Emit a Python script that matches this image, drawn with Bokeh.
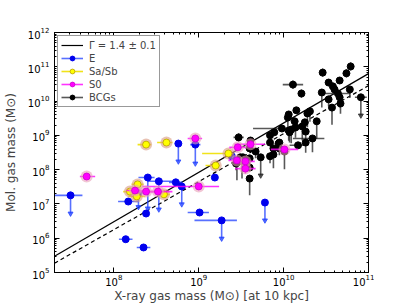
import numpy as np
from bokeh.plotting import figure
from bokeh.models import (Legend, LegendItem, LogAxis, LogTicker, CustomJSTickFormatter)
from bokeh.embed import file_html
from bokeh.resources import INLINE

# ---------------- data (log10 of masses in solar masses) ----------------
# Elliptical galaxies (E)
E_logMx   = [7.49, 8.17, 8.14, 8.35, 8.38, 8.29, 8.40, 8.53, 8.73, 8.80, 8.76, 8.96, 9.19, 9.39, 9.01, 9.27, 9.78]
E_logMmol = [7.25, 7.07, 5.97, 5.73, 6.72, 7.31, 7.77, 7.66, 7.63, 7.51, 8.76, 8.73, 7.77, 8.39, 6.75, 6.52, 7.04]
E_xlo     = [0.19, 0.12, 0.08, 0.08, 0.00, 0.00, 0.11, 0.13, 0.08, 0.00, 0.00, 0.06, 0.00, 0.00, 0.14, 0.32, 0.00]
E_xhi     = [0.14, 0.12, 0.08, 0.08, 0.00, 0.00, 0.08, 0.16, 0.08, 0.00, 0.00, 0.06, 0.00, 0.00, 0.11, 0.18, 0.00]
E_ylo     = [0.53, 0.00, 0.00, 0.00, 0.00, 0.40, 0.90, 0.82, 0.00, 0.52, 0.52, 0.55, 0.08, 0.08, 0.00, 0.53, 0.52]
E_yhi     = [0.00, 0.00, 0.00, 0.00, 0.00, 0.00, 0.00, 0.00, 0.00, 0.00, 0.00, 0.00, 0.08, 0.08, 0.00, 0.00, 0.00]
E_uplim   = [1, 0, 0, 0, 0, 1, 1, 1, 0, 1, 1, 1, 0, 0, 0, 1, 1]

# Spirals (Sa/Sb)
S_logMx   = [8.38, 8.62, 9.35, 9.20, 8.28, 8.19, 8.27, 8.59]
S_logMmol = [8.73, 8.79, 8.47, 8.12, 7.57, 7.36, 7.22, 7.28]
S_xlo     = [0.10, 0.11, 0.31, 0.12, 0.07, 0.08, 0.10, 0.07]
S_xhi     = [0.06, 0.07, 0.05, 0.05, 0.07, 0.08, 0.10, 0.07]

# Lenticulars (S0)
S0_logMx   = [7.68, 8.96, 9.00, 8.52, 8.38, 8.25, 9.61, 9.46, 9.55, 9.55, 9.45, 10.01]
S0_logMmol = [7.80, 8.91, 7.51, 7.36, 7.36, 7.39, 8.74, 8.65, 8.24, 8.03, 8.27, 8.59]
S0_xlo     = [0.08, 0.09, 0.66, 0.18, 0.10, 0.10, 0.19, 0.10, 0.13, 0.12, 0.10, 0.16]
S0_xhi     = [0.10, 0.08, 0.24, 0.17, 0.10, 0.10, 0.17, 0.10, 0.11, 0.12, 0.10, 0.16]
S0_yerr    = [0.06, 0.06, 0.00, 0.00, 0.00, 0.00, 0.08, 0.00, 0.00, 0.15, 0.00, 0.05]

# Brightest cluster galaxies (BCGs)
B_logMx   = [10.11, 10.21, 10.46, 10.53, 10.58, 10.66, 10.74, 10.79, 10.45, 10.60, 10.64, 10.66, 10.78, 10.91,
             10.53, 10.57, 10.67, 10.39, 10.31, 10.28, 10.15, 10.06, 10.05, 10.13, 9.98, 10.14, 10.22, 10.25,
             10.26, 10.06, 10.09, 9.84, 10.34, 10.26, 9.88, 9.47, 9.61, 9.67, 9.73, 9.84, 9.88, 9.95, 10.01,
             9.60, 9.60, 9.52, 9.60, 9.60, 9.44, 9.51, 9.45, 9.49, 9.84, 9.94, 9.89, 9.95, 10.17, 10.07]
B_logMmol = [10.48, 10.22, 10.83, 10.54, 10.43, 10.60, 10.81, 11.01, 10.25, 10.34, 10.22, 10.11, 10.34, 10.11,
             10.05, 9.81, 9.93, 9.41, 9.70, 9.64, 9.73, 9.61, 9.52, 9.41, 9.20, 9.23, 9.26, 9.38,
             9.11, 9.14, 9.17, 9.00, 8.91, 8.79, 8.62, 8.94, 8.85, 8.53, 8.36, 8.39, 8.44, 8.62, 8.53,
             8.62, 8.33, 8.36, 8.06, 7.74, 8.18, 8.24, 8.21, 8.36, 8.79, 8.76, 9.09, 8.79, 8.71, 9.09]
B_xlo     = [0.12, 0.02, 0, 0, 0, 0, 0, 0, 0, 0, 0.18, 0, 0, 0.07,
             0, 0, 0, 0, 0, 0, 0, 0, 0, 0, 0.34, 0, 0, 0,
             0, 0, 0, 0, 0.23, 0, 0, 0.06, 0, 0, 0, 0, 0, 0, 0,
             0, 0, 0, 0, 0, 0, 0, 0, 0, 0, 0, 0, 0, 0.10, 0]
B_xhi     = [0.12, 0.02, 0, 0, 0, 0, 0, 0, 0, 0, 0.15, 0, 0, 0.07,
             0, 0, 0, 0, 0, 0, 0, 0, 0, 0, 0.04, 0, 0, 0,
             0, 0, 0, 0, 0.14, 0, 0, 0.06, 0, 0, 0, 0, 0, 0, 0,
             0, 0, 0, 0, 0, 0, 0, 0, 0, 0, 0, 0, 0, 0.10, 0]
B_ylo     = [0.12, 0.12, 0.12, 0.10, 0.10, 0.10, 0.12, 0.12, 0.44, 0.00, 0.10, 0.30, 0.25, 0.53,
             0.20, 0.50, 0.30, 0.50, 0.30, 0.40, 0.10, 0.10, 0.30, 0.10, 0.00, 0.30, 0.41, 0.20,
             0.40, 0.30, 0.40, 0.15, 0.40, 0.30, 0.20, 0.12, 0.10, 0.20, 0.53, 0.20, 0.40, 0.20, 0.52,
             0.10, 0.20, 0.10, 0.10, 0.49, 0.20, 0.50, 0.52, 0.10, 0.10, 0.20, 0.10, 0.20, 0.00, 0.30]
B_yhi     = [0.12, 0.12, 0.12, 0.10, 0.10, 0.10, 0.12, 0.12, 0.10, 0.00, 0.10, 0.00, 0.05, 0.00,
             0, 0, 0, 0, 0, 0, 0.10, 0.10, 0, 0.10, 0, 0, 0, 0,
             0, 0, 0, 0.10, 0, 0, 0, 0.12, 0.10, 0, 0, 0, 0, 0, 0,
             0, 0, 0, 0, 0, 0, 0, 0, 0, 0.10, 0, 0.10, 0, 0, 0]
B_uplim   = [0]*13 + [1] + [0]*24 + [1] + [0]*19

# Fitted relations: log Mmol = slope * log Mx + intercept
fit_slope, fit_intercept = 1.44, -5.04
fit2_slope, fit2_intercept = 1.40, -4.95
fit_label = "Γ = 1.4 ± 0.1"

x_lim = (2e7, 1e11)
y_lim = (1e5, 1e12)

# ---------------- figure ----------------
p = figure(frame_width=314, frame_height=240,
           x_axis_type="log", y_axis_type="log",
           x_range=x_lim, y_range=y_lim,
           output_backend="svg", toolbar_location=None,
           min_border=0, min_border_top=32)
p.xgrid.visible = False
p.ygrid.visible = False
p.outline_line_color = "black"
p.outline_line_width = 1
p.background_fill_color = "white"
p.border_fill_color = "white"


def style_axis(ax, labels=True, ms=2, ls=1):
    ax.ticker = LogTicker(num_minor_ticks=10)
    ax.major_tick_in = 5
    ax.major_tick_out = 0
    ax.minor_tick_in = 2
    ax.minor_tick_out = 0
    ax.axis_line_color = "black"
    ax.major_tick_line_color = "black"
    ax.minor_tick_line_color = "black"
    ax.major_label_text_font = "DejaVu Sans"
    ax.major_label_text_font_size = "10px"
    ax.major_label_text_color = "black"
    ax.major_label_standoff = ms
    ax.axis_label_text_font = "DejaVu Sans"
    ax.axis_label_text_font_size = "12px"
    ax.axis_label_text_font_style = "normal"
    ax.axis_label_standoff = ls
    if not labels:
        ax.formatter = CustomJSTickFormatter(code="return ' ';")


style_axis(p.xaxis[0], ms=1, ls=0)
style_axis(p.yaxis[0], ms=5, ls=7)
p.xaxis[0].axis_label = "X-ray gas mass (M⊙) [at 10 kpc]"
p.yaxis[0].axis_label = "Mol. gas mass (M⊙)"

top_ax = LogAxis()
style_axis(top_ax, labels=False, ms=0, ls=0)
p.add_layout(top_ax, "above")
right_ax = LogAxis()
style_axis(right_ax, labels=False, ms=0, ls=0)
p.add_layout(right_ax, "right")

# ---------------- fit lines ----------------
lx = np.log10(np.array(x_lim))
fit_line = p.line(10**lx, 10**(fit_slope*lx + fit_intercept), line_color="black", line_width=1.2)
p.line(10**lx, 10**(fit2_slope*lx + fit2_intercept), line_color="black", line_width=1.2, line_dash="4 3")


def errorbars(lx, ly, xlo, xhi, ylo, yhi, uplim, color, err_alpha):
    lx = np.array(lx, float); ly = np.array(ly, float)
    xlo = np.array(xlo, float); xhi = np.array(xhi, float)
    ylo = np.array(ylo, float); yhi = np.array(yhi, float)
    up = np.array(uplim, bool)
    hseg = None
    mx = xlo + xhi > 0
    if mx.any():
        hseg = p.segment(10**(lx[mx]-xlo[mx]), 10**ly[mx], 10**(lx[mx]+xhi[mx]), 10**ly[mx],
                         line_color=color, line_width=1.6, line_alpha=err_alpha)
    my = ylo + yhi > 0
    if my.any():
        p.segment(10**lx[my], 10**(ly[my]-ylo[my]), 10**lx[my], 10**(ly[my]+yhi[my]),
                  line_color=color, line_width=1.6, line_alpha=err_alpha)
    if up.any():
        p.scatter(10**lx[up], 10**(ly[up]-ylo[up]), marker="inverted_triangle", size=5,
                  fill_color=color, line_color=color, fill_alpha=err_alpha, line_alpha=err_alpha)
    return hseg


def zeros(n):
    return [0]*n


# BCGs
b_h = errorbars(B_logMx, B_logMmol, B_xlo, B_xhi, B_ylo, B_yhi, B_uplim, "#202020", 0.75)
b_pts = p.scatter(10**np.array(B_logMx), 10**np.array(B_logMmol), marker="circle", size=7,
                  fill_color="black", line_color="black")

# E
e_h = errorbars(E_logMx, E_logMmol, E_xlo, E_xhi, E_ylo, E_yhi, E_uplim, "#2040ff", 0.75)
e_pts = p.scatter(10**np.array(E_logMx), 10**np.array(E_logMmol), marker="circle", size=7,
                  fill_color="#0000ee", line_color="#0000ee")

# Sa/Sb
s_h = errorbars(S_logMx, S_logMmol, S_xlo, S_xhi, zeros(len(S_logMx)), zeros(len(S_logMx)),
                zeros(len(S_logMx)), "#f0e000", 0.9)
p.scatter(10**np.array(S_logMx), 10**np.array(S_logMmol), marker="circle", size=12,
          fill_color="#d89a80", line_color=None, fill_alpha=0.6)
s_pts = p.scatter(10**np.array(S_logMx), 10**np.array(S_logMmol), marker="circle", size=7,
                  fill_color="yellow", line_color="#b8a000", line_width=0.8)

# S0
s0_h = errorbars(S0_logMx, S0_logMmol, S0_xlo, S0_xhi, S0_yerr, S0_yerr, zeros(len(S0_logMx)),
                 "#ff00ff", 0.8)
p.scatter(10**np.array(S0_logMx), 10**np.array(S0_logMmol), marker="circle", size=12,
          fill_color="#e8a0b8", line_color=None, fill_alpha=0.6)
s0_pts = p.scatter(10**np.array(S0_logMx), 10**np.array(S0_logMmol), marker="circle", size=7,
                   fill_color="#ff00ff", line_color="#cc00cc", line_width=0.8)

legend = Legend(items=[
    LegendItem(label=fit_label, renderers=[fit_line]),
    LegendItem(label="E", renderers=[e_h, e_pts]),
    LegendItem(label="Sa/Sb", renderers=[s_h, s_pts]),
    LegendItem(label="S0", renderers=[s0_h, s0_pts]),
    LegendItem(label="BCGs", renderers=[b_h, b_pts]),
], location="top_left")
legend.border_line_color = "#333333"
legend.border_line_width = 1
legend.background_fill_color = "white"
legend.background_fill_alpha = 1
legend.label_text_font = "DejaVu Sans"
legend.label_text_font_size = "10px"
legend.label_height = 12
legend.glyph_height = 12
legend.glyph_width = 22
legend.spacing = 1
legend.padding = 3
legend.margin = 3
legend.label_standoff = 6
p.add_layout(legend)

open("out.html", "w").write(file_html(p, INLINE))
